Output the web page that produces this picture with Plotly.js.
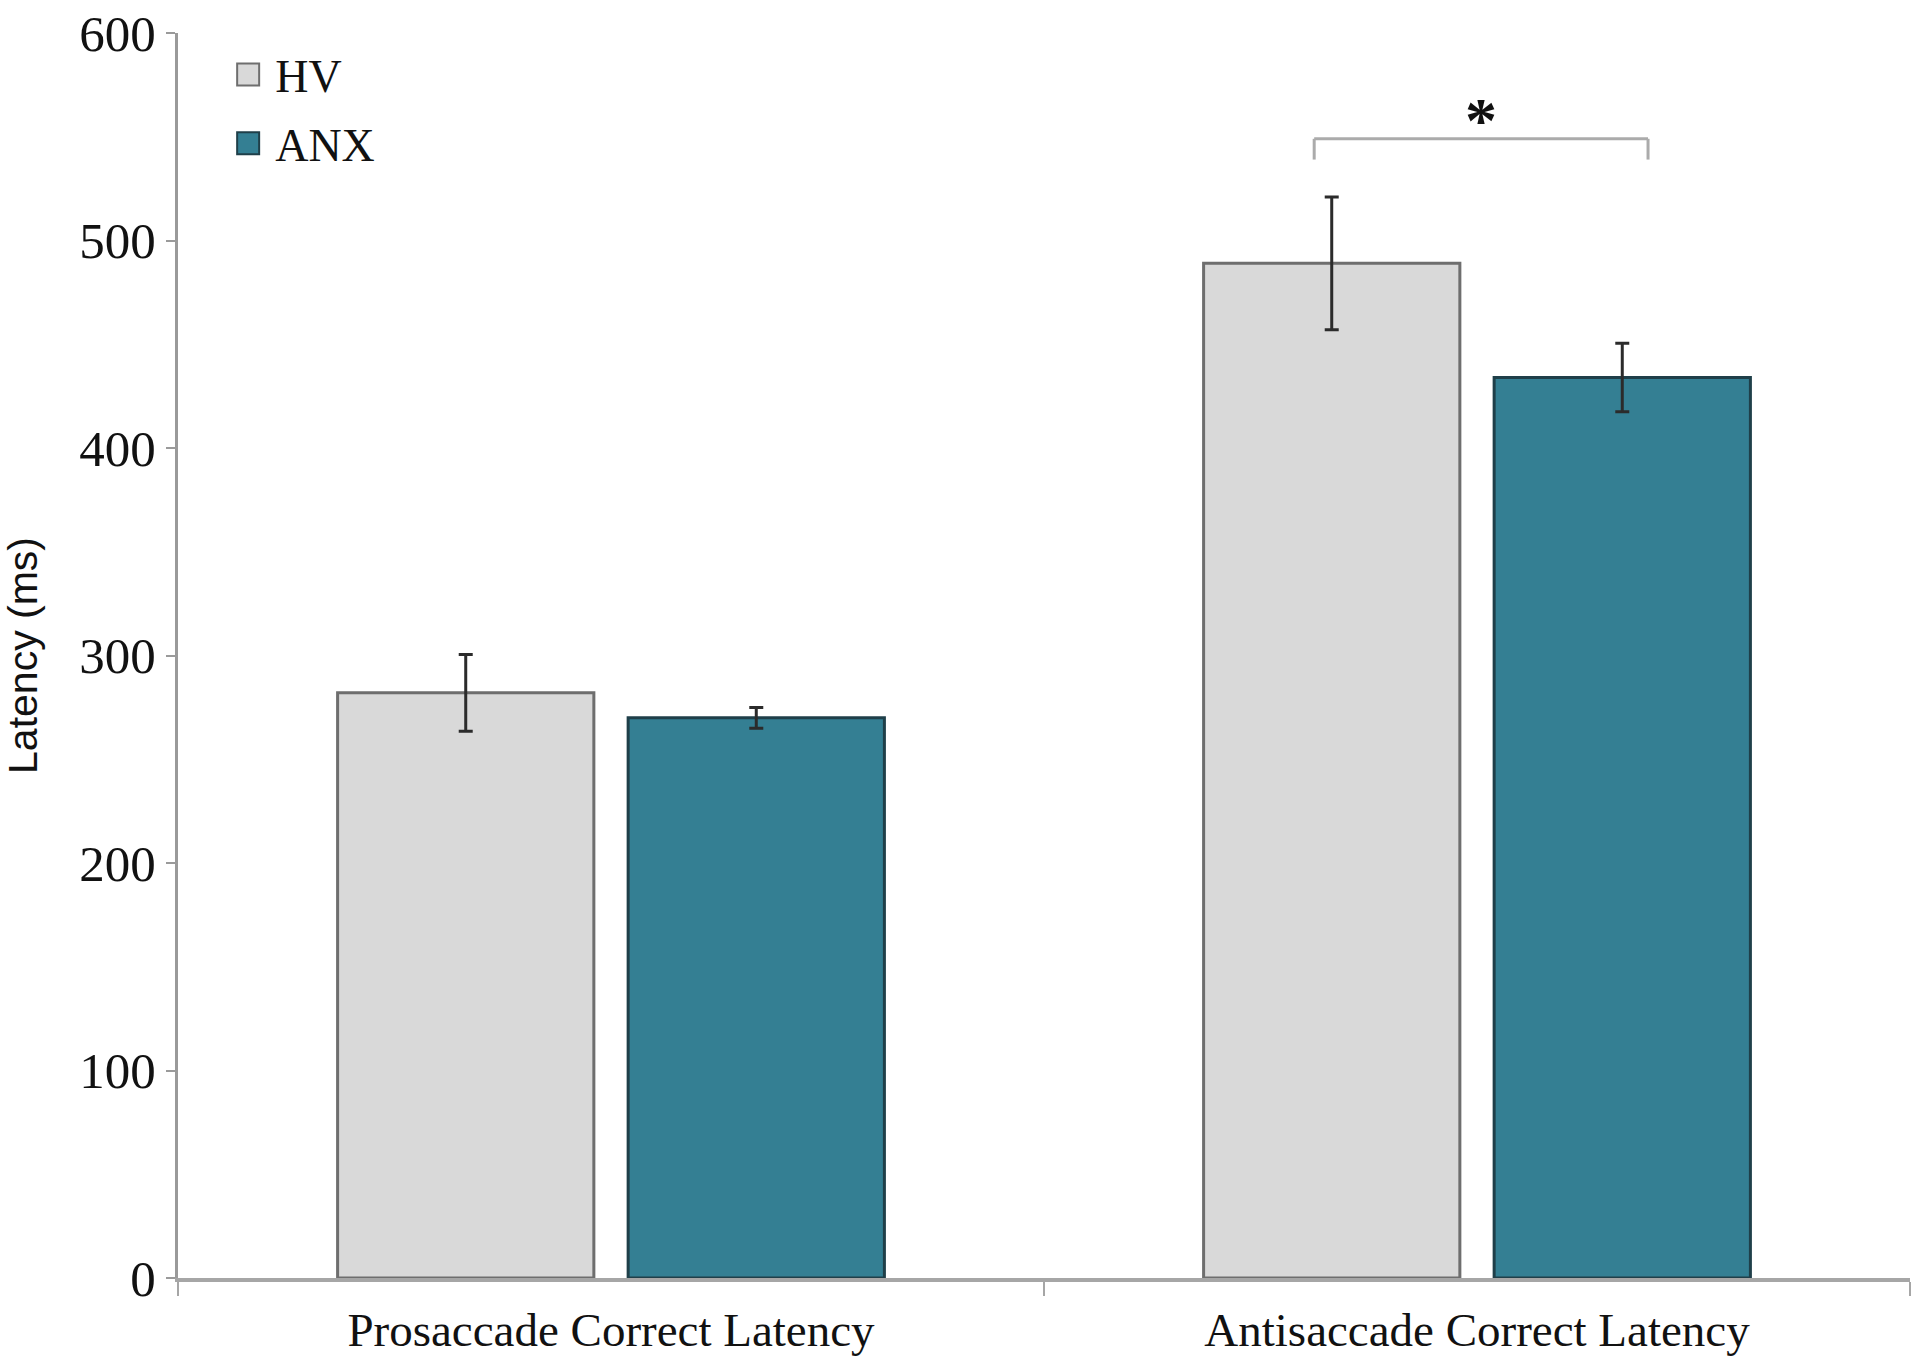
<!DOCTYPE html>
<html>
<head>
<meta charset="utf-8">
<script src="https://cdn.plot.ly/plotly-3.0.1.min.js"></script>
<style>
html, body { margin: 0; padding: 0; background: #ffffff; }
#chart { width: 1920px; height: 1366px; }
</style>
</head>
<body>
<div id="chart"></div>
<script>
// ---- data ----
const categories = ["Prosaccade Correct Latency", "Antisaccade Correct Latency"];
const seriesNames = ["HV", "ANX"];
const hvValues = [282, 489];
const hvErrors = [18.5, 32];
const anxValues = [270, 434];
const anxErrors = [5, 16.5];
const yTickValues = [0, 100, 200, 300, 400, 500, 600];
const yTickLabels = ["0", "100", "200", "300", "400", "500", "600"];
const significanceLabel = "*";
const yAxisTitle = "Latency (ms)";

const serif = "Liberation Serif, Times New Roman, serif";
const sans = "Liberation Sans, Arial, sans-serif";

const errStyle = { type: "data", visible: true, color: "#2b2b2b", thickness: 3, width: 7 };

const traces = [
  {
    type: "bar",
    name: seriesNames[0],
    legendgroup: "g1",
    x: categories,
    y: hvValues,
    error_y: Object.assign({ array: hvErrors }, errStyle),
    marker: { color: "#d9d9d9", line: { color: "#6e6e6e", width: 3 } }
  },
  {
    type: "bar",
    name: seriesNames[1],
    legendgroup: "g2",
    x: categories,
    y: anxValues,
    error_y: Object.assign({ array: anxErrors }, errStyle),
    marker: { color: "#347f93", line: { color: "#1f3f49", width: 3 } }
  }
];

// significance bracket between the two Antisaccade bars (category index 1)
const bracketLeft = 0.812, bracketRight = 1.1975, bracketTop = 549, bracketBottom = 539;
const bracketColor = "#ababab";

const layout = {
  width: 1920,
  height: 1366,
  paper_bgcolor: "#ffffff",
  plot_bgcolor: "#ffffff",
  margin: { l: 178, r: 10, t: 33, b: 88 },
  barmode: "group",
  bargap: 0.329,
  bargroupgap: 0.118,
  showlegend: true,
  legend: {
    x: 0.033, y: 0.996, xanchor: "left", yanchor: "top",
    bgcolor: "rgba(0,0,0,0)",
    traceorder: "grouped",
    tracegroupgap: 6,
    font: { family: serif, size: 46, color: "#111111" },
    itemclick: false, itemdoubleclick: false
  },
  xaxis: {
    type: "category",
    showgrid: false,
    showline: true,
    linecolor: "#a6a6a6",
    linewidth: 4,
    ticks: "outside",
    tickson: "boundaries",
    ticklen: 14,
    tickwidth: 2,
    tickcolor: "#a6a6a6",
    ticklabelstandoff: 8,
    tickfont: { family: serif, size: 47, color: "#111111" },
    zeroline: false,
    fixedrange: true
  },
  yaxis: {
    range: [0, 600],
    tickvals: yTickValues,
    ticktext: yTickLabels,
    showgrid: false,
    zeroline: false,
    showline: true,
    linecolor: "#9a9a9a",
    linewidth: 3,
    ticks: "outside",
    ticklen: 9,
    tickwidth: 2,
    tickcolor: "#9a9a9a",
    ticklabelstandoff: 0,
    tickfont: { family: serif, size: 51, color: "#111111" },
    title: { text: yAxisTitle, font: { family: sans, size: 41, color: "#111111" }, standoff: 30 },
    fixedrange: true
  },
  shapes: [
    { type: "line", xref: "x", yref: "y", x0: bracketLeft, x1: bracketRight, y0: bracketTop, y1: bracketTop, line: { color: bracketColor, width: 3 } },
    { type: "line", xref: "x", yref: "y", x0: bracketLeft, x1: bracketLeft, y0: bracketTop, y1: bracketBottom, line: { color: bracketColor, width: 3 } },
    { type: "line", xref: "x", yref: "y", x0: bracketRight, x1: bracketRight, y0: bracketTop, y1: bracketBottom, line: { color: bracketColor, width: 3 } }
  ],
  annotations: [
    { xref: "x", yref: "y", x: (bracketLeft + bracketRight) / 2, y: bracketTop - 9, text: "<b>" + significanceLabel + "</b>",
      showarrow: false, xanchor: "center", yanchor: "bottom",
      font: { family: serif, size: 64, color: "#111111" } }
  ]
};

function enlargeLegendSymbols() {
  document.querySelectorAll("#chart .legend .legendpoints path").forEach(function (p) {
    p.setAttribute("d", "M4,11H-18V-11H4Z");
    p.style.strokeWidth = "2px";
  });
}

Plotly.newPlot("chart", traces, layout, { displayModeBar: false, staticPlot: true }).then(function (gd) {
  enlargeLegendSymbols();
  gd.on("plotly_afterplot", enlargeLegendSymbols);
});
</script>
</body>
</html>
